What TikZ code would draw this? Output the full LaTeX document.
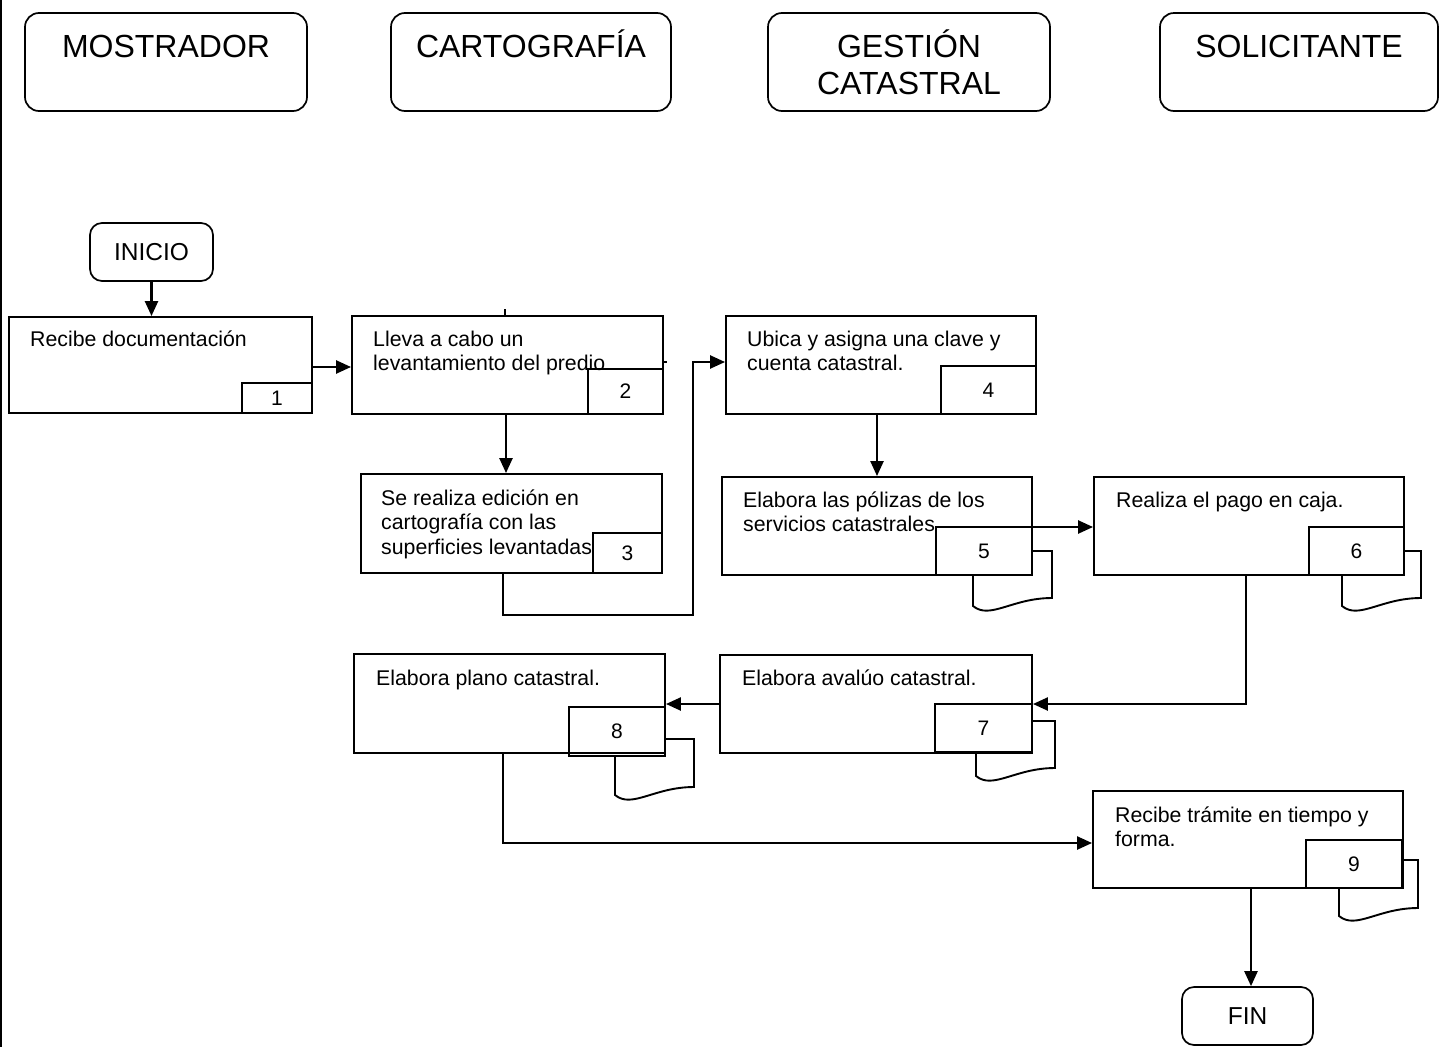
\documentclass[tikz,border=0pt]{standalone}
\usepackage{fontspec}
\setmainfont{Liberation Sans}
\usetikzlibrary{arrows.meta}

\tikzset{
  lane/.style={draw, rounded corners=14pt, line width=1.7pt, inner sep=0pt},
  terminal/.style={draw, rounded corners=12pt, line width=1.7pt, inner sep=0pt,
                   font=\fontsize{24.5}{28}\selectfont},
  procbox/.style={draw, line width=1.9pt, inner sep=0pt},
  numbox/.style={draw, line width=1.9pt, inner sep=0pt, font=\fontsize{21}{24}\selectfont},
  boxtext/.style={anchor=north west, inner sep=0pt, align=left,
                  font=\fontsize{21.3}{24.5}\selectfont},
  headtext/.style={inner sep=0pt, align=center, font=\fontsize{32}{37}\selectfont},
  flow/.style={line width=2.4pt, -{Triangle[length=15pt,width=13pt]}},
  sheet/.style={line width=1.9pt},
}

% box given by its corners: style, name, x1, y1, x2, y2, text
\newcommand\cbox[7]{%
  \node[#1, minimum width={(#5-#3)*1pt}, minimum height={(#6-#4)*1pt}]
    (#2) at ({(#3+#5)/2},{(#4+#6)/2}) {#7};}

% second sheet behind a numbered document box:
% start x, top y, right x, bottom y, left x, box bottom y
\newcommand\sheet[6]{%
  \draw[sheet] (#1,#2) -- (#3,#2) -- (#3,#4)
    .. controls +(-40,0) and +(17,14) .. ++(-79,8) -- (#5,#6);}

\begin{document}
\begin{tikzpicture}[x=1pt, y=-1pt]
\useasboundingbox (0,0) rectangle (1440,1047);

% page margin rule
\draw[line width=2.2pt] (1,0) -- (1,1047);

% swimlane headers
\cbox{lane}{lane1}{25}{13}{307}{111}{}
\cbox{lane}{lane2}{391}{13}{671}{111}{}
\cbox{lane}{lane3}{768}{13}{1050}{111}{}
\cbox{lane}{lane4}{1160}{13}{1438}{111}{}
\node[headtext, anchor=base] (lane1t) at (166,57) {MOSTRADOR};
\node[headtext, anchor=base] (lane2t) at (531,57) {CARTOGRAFÍA};
\node[headtext, anchor=north] (lane3t) at (909,25) {\rule{0pt}{32pt}GESTIÓN\\CATASTRAL};
\node[headtext, anchor=base] (lane4t) at (1299,57) {SOLICITANTE};

% terminals
\cbox{terminal}{inicio}{90}{223}{213}{281}{INICIO}
\cbox{terminal}{fin}{1182}{987}{1313}{1045}{FIN}

% process boxes
\cbox{procbox}{b1}{9}{317}{312}{413}{}
\cbox{procbox}{b2}{352}{316}{663}{414}{}
\cbox{procbox}{b3}{361}{474}{662}{573}{}
\cbox{procbox}{b4}{726}{316}{1036}{414}{}
\cbox{procbox}{b5}{722}{477}{1032}{575}{}
\cbox{procbox}{b6}{1094}{477}{1404}{575}{}
\cbox{procbox}{b7}{720}{655}{1032}{753}{}
\cbox{procbox}{b8}{354}{654}{665}{753}{}
\cbox{procbox}{b9}{1093}{791}{1403}{888}{}

% process texts
\node[boxtext] (t1) at (30,328.85) {\strut Recibe documentación};
\node[boxtext] (t2) at (373,328.85) {\strut Lleva a cabo un\\levantamiento del predio};
\node[boxtext] (t3) at (381,487.85) {\strut Se realiza edición en\\cartografía con las\\superficies levantadas};
\node[boxtext] (t4) at (747,328.85) {\strut Ubica y asigna una clave y\\cuenta catastral.};
\node[boxtext] (t5) at (743,489.85) {\strut Elabora las pólizas de los\\servicios catastrales};
\node[boxtext] (t6) at (1116,489.85) {\strut Realiza el pago en caja.};
\node[boxtext] (t7) at (742,667.85) {\strut Elabora avalúo catastral.};
\node[boxtext] (t8) at (376,667.85) {\strut Elabora plano catastral.};
\node[boxtext] (t9) at (1115,804.85) {\strut Recibe trámite en tiempo y\\forma.};

% second sheets of the documents
\sheet{1032}{551}{1052}{598}{973}{575}
\sheet{1404}{551}{1421}{598}{1342}{575}
\sheet{1032}{721}{1055}{768}{976}{752}
\sheet{665}{739}{694}{787}{615}{756}
\sheet{1402}{860}{1418}{908}{1339}{888}

% step numbers
\cbox{numbox}{n1}{242}{383}{312}{413}{1}
\cbox{numbox}{n2}{588}{369}{663}{414}{2}
\cbox{numbox}{n3}{593}{533}{662}{573}{3}
\cbox{numbox}{n4}{941}{366}{1036}{414}{4}
\cbox{numbox}{n5}{936}{527}{1032}{575}{5}
\cbox{numbox}{n6}{1309}{527}{1404}{575}{6}
\cbox{numbox}{n7}{935}{704}{1032}{752}{7}
\cbox{numbox}{n8}{569}{707}{665}{756}{8}
\cbox{numbox}{n9}{1306}{840}{1402}{888}{9}

% small stray strokes
\draw[line width=1.2pt] (505,309) -- (505,316);
\draw[line width=1.2pt] (663,362) -- (667,362);

% connectors
\coordinate (j34) at (693,615);
\draw[flow] (inicio.south) -- (inicio.south |- b1.north);
\draw[flow] ([yshift=-2pt]b1.east) -- ([yshift=-2pt]b1.east -| b2.west);
\draw[flow] ([xshift=-1.5pt]b2.south) -- ([xshift=-1.5pt]b2.south |- b3.north);
\draw[flow] ([xshift=-8.5pt]b3.south) |- (j34) |- ([yshift=3pt]b4.west);
\draw[flow] (b4.south -| b5.north) -- (b5.north);
\draw[flow] ([yshift=-1pt]b5.east) -- ([yshift=-1pt]b5.east -| b6.west);
\draw[flow] ([xshift=-3pt]b6.south) |- (b7.east);
\draw[flow] (b7.west) -- (b7.west -| b8.east);
\draw[flow] ([xshift=-6.5pt]b8.south) |- ([yshift=-3.5pt]b9.west);
\draw[flow] ([xshift=3pt]b9.south) -- ([xshift=3pt]b9.south |- fin.north);
\end{tikzpicture}
\end{document}
